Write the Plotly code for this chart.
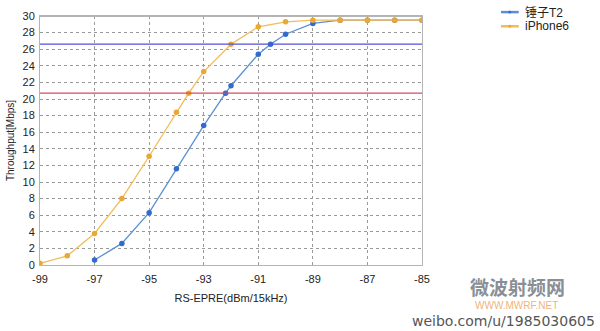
import plotly.graph_objects as go

# Data
t2_x = [-97, -96, -95, -94, -93, -92.2, -92, -91, -90.55, -90, -89, -88, -87, -86, -85]
t2_y = [0.6, 2.6, 6.3, 11.6, 16.8, 20.7, 21.6, 25.4, 26.6, 27.8, 29.1, 29.5, 29.5, 29.5, 29.5]
ip_x = [-99, -98, -97, -96, -95, -94, -93.55, -93, -92, -91, -90, -89, -88, -87, -86, -85]
ip_y = [0.2, 1.1, 3.8, 8.0, 13.1, 18.4, 20.7, 23.3, 26.6, 28.7, 29.3, 29.5, 29.5, 29.5, 29.5, 29.5]
ref_blue = 26.6
ref_red = 20.7
series_names = ["锤子T2", "iPhone6"]
x_ticks = [-99, -97, -95, -93, -91, -89, -87, -85]
y_ticks = list(range(0, 31, 2))

BLUE_LINE = "#5b8fd2"
BLUE_MK = "#2f6bd0"
YEL_LINE = "#f2bc5a"
YEL_MK = "#eaa832"

W, H = 600, 331
L, R, T, B = 35, 178, 10, 66
PW = W - L - R
PH = H - T - B

def px(xp):
    return (xp - L) / PW

def py(yp):
    return (H - B - yp) / PH

fig = go.Figure()
fig.add_trace(go.Scatter(x=t2_x, y=t2_y, mode="lines+markers", name=series_names[0],
                         line=dict(color=BLUE_LINE, width=1.3),
                         marker=dict(color=BLUE_MK, size=5.5), showlegend=False))
fig.add_trace(go.Scatter(x=ip_x, y=ip_y, mode="lines+markers", name=series_names[1],
                         line=dict(color=YEL_LINE, width=1.3),
                         marker=dict(color=YEL_MK, size=5.5), showlegend=False))

shapes = []
# reference horizontal lines
shapes.append(dict(type="line", xref="paper", x0=0, x1=1, yref="y", y0=ref_blue, y1=ref_blue,
                   line=dict(color="#5050d8", width=1.2)))
shapes.append(dict(type="line", xref="paper", x0=0, x1=1, yref="y", y0=ref_red, y1=ref_red,
                   line=dict(color="#d84a5e", width=1.2)))
# top border thicker
shapes.append(dict(type="line", xref="paper", x0=0, x1=1, yref="paper", y0=1, y1=1,
                   line=dict(color="#b4b4b4", width=2)))

# manual legend
leg = [(series_names[0], BLUE_LINE, BLUE_MK, 6), (series_names[1], YEL_LINE, YEL_MK, 20.5)]
annotations = []
for name, lc, mc, yy in leg:
    shapes.append(dict(type="line", xref="paper", yref="paper", x0=px(502), x1=px(520),
                       y0=py(yy), y1=py(yy), line=dict(color=lc, width=2.5)))
    shapes.append(dict(type="circle", xref="paper", yref="paper", x0=px(509.5), x1=px(512.5),
                       y0=py(yy + 1.5), y1=py(yy - 1.5), line=dict(color=mc, width=0), fillcolor=mc))
    annotations.append(dict(text=name, xref="paper", yref="paper", x=px(524), y=py(yy),
                            xanchor="left", yanchor="middle", showarrow=False,
                            font=dict(size=12, color="#222", family="Liberation Sans, Noto Sans CJK SC")))

# watermark texts
annotations.append(dict(text="<b>微波射频网</b>", xref="paper", yref="paper", x=px(519), y=py(287),
                        xanchor="center", yanchor="middle", showarrow=False,
                        font=dict(size=19, color="#8a8f96", family="Noto Sans CJK SC")))
annotations.append(dict(text="WWW.MWRF.NET", xref="paper", yref="paper", x=px(518), y=py(306),
                        xanchor="center", yanchor="middle", showarrow=False,
                        font=dict(size=10, color="#f0b47a", family="Liberation Sans")))
annotations.append(dict(text="weibo.com/u/1985030605", xref="paper", yref="paper", x=px(599), y=py(322),
                        xanchor="right", yanchor="middle", showarrow=False,
                        font=dict(size=14, color="#555", family="DejaVu Sans")))

fig.update_layout(
    width=W, height=H,
    margin=dict(l=L, r=R, t=T, b=B),
    paper_bgcolor="white", plot_bgcolor="white",
    font=dict(family="Liberation Sans", size=11, color="#222"),
    shapes=shapes, annotations=annotations,
    xaxis=dict(range=[-99, -85], tickvals=x_ticks, ticktext=[str(v) for v in x_ticks],
               showgrid=True, gridcolor="#9a9a9a", griddash="dot", gridwidth=1,
               showline=True, linecolor="#b4b4b4", linewidth=1, mirror=True,
               zeroline=False, ticks="", tickfont=dict(size=11), ticklabelstandoff=4,
               title=dict(text="RS-EPRE(dBm/15kHz)", font=dict(size=11), standoff=10)),
    yaxis=dict(range=[0, 30], tickvals=y_ticks,
               showgrid=True, gridcolor="#9a9a9a", griddash="dot", gridwidth=1,
               showline=True, linecolor="#b4b4b4", linewidth=1, mirror=True,
               zeroline=False, ticks="", tickfont=dict(size=11), ticklabelstandoff=2,
               title=dict(text="Throughput[Mbps]", font=dict(size=10), standoff=6)),
)

fig.write_html("out.html")
